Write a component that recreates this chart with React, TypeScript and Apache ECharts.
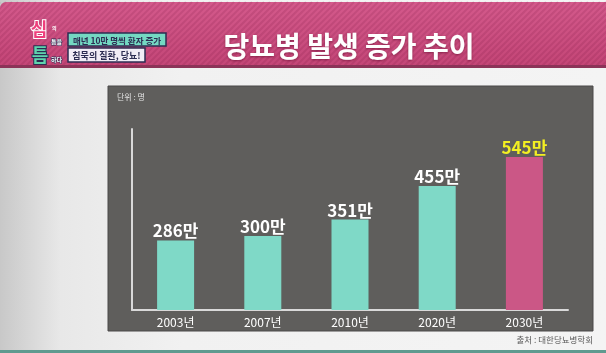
import React, { useEffect, useRef } from "react";
import * as echarts from "echarts";

const categories = ["2003년", "2007년", "2010년", "2020년", "2030년"];
const values = [286, 300, 351, 455, 545];
const highlightCategory = "2030년";
const unitSuffix = "만";
const titleText = "당뇨병 발생 증가 추이";
const unitText = "단위 : 명";
const sourceText = "출처 : 대한당뇨병학회";
const tagLine1 = "매년 10만 명씩 환자 증가";
const tagLine2 = "침묵의 질환, 당뇨!";

const FONT = "'Noto Sans CJK KR', 'Noto Sans', sans-serif";

export default function App() {
  const ref = useRef<HTMLDivElement>(null);
  useEffect(() => {
    if (!ref.current) return;
    const chart = echarts.init(ref.current, undefined, { renderer: "svg" });

    const stripes: any[] = [];
    for (let x = -70; x < 620; x += 6) {
      stripes.push({
        type: "line",
        silent: true,
        shape: { x1: x, y1: 66, x2: x + 64, y2: 2 },
        style: { stroke: "rgba(120,20,60,0.16)", lineWidth: 2 },
        z: -9,
      });
    }

    const graphics: any[] = [
      {
        type: "rect",
        shape: { x: 0, y: 0, width: 606, height: 353 },
        style: {
          fill: new echarts.graphic.LinearGradient(0, 0, 1, 0, [
            { offset: 0, color: "#c8c8c8" },
            { offset: 0.1, color: "#e8e8e8" },
            { offset: 0.3, color: "#f1f1f1" },
            { offset: 1, color: "#f4f4f4" },
          ]),
        },
        z: -10,
      },
      {
        type: "rect",
        shape: { x: 0, y: 2, width: 606, height: 64, r: [6, 0, 0, 0] },
        style: {
          fill: new echarts.graphic.LinearGradient(0, 0, 0, 1, [
            { offset: 0, color: "#d45a8c" },
            { offset: 1, color: "#c44677" },
          ]),
        },
        z: -10,
      },
      ...stripes,
      {
        type: "rect",
        shape: { x: 0, y: 65, width: 606, height: 3 },
        style: { fill: "#8c3358" },
        z: -8,
      },
      {
        type: "rect",
        shape: { x: 0, y: 350, width: 606, height: 3 },
        style: { fill: "#5f9a8f" },
        z: -8,
      },
      {
        type: "rect",
        shape: { x: 108, y: 86, width: 485, height: 245 },
        style: { fill: "#5f5e5c", stroke: "#4a4948", lineWidth: 1 },
        z: -7,
      },
      {
        type: "text",
        x: 349,
        y: 45,
        style: {
          text: titleText,
          fill: "#ffffff",
          font: `bold 28px ${FONT}`,
          align: "center",
          verticalAlign: "middle",
          textShadowColor: "rgba(80,0,30,0.5)",
          textShadowBlur: 2,
          textShadowOffsetY: 1,
        },
        z: 5,
      },
      {
        type: "text",
        x: 39,
        y: 28,
        style: {
          text: "심",
          fill: "#ee3f7c",
          font: `bold 18px ${FONT}`,
          lineHeight: 16,
          align: "center",
          verticalAlign: "middle",
          stroke: "#ffffff",
          lineWidth: 2,
        },
        z: 6,
      },
      {
        type: "text",
        x: 40,
        y: 54,
        style: {
          text: "틈",
          fill: "#5fd3ad",
          font: `bold 18px ${FONT}`,
          lineHeight: 16,
          align: "center",
          verticalAlign: "middle",
          stroke: "#2c2c52",
          lineWidth: 2,
        },
        z: 6,
      },
      {
        type: "text",
        x: 52,
        y: 27,
        style: { text: "의", fill: "#ffffff", font: `bold 5px ${FONT}`, lineHeight: 5, verticalAlign: "middle" },
        z: 6,
      },
      {
        type: "text",
        x: 51,
        y: 41,
        style: { text: "틈을", fill: "#ffffff", font: `bold 6px ${FONT}`, lineHeight: 6, verticalAlign: "middle", stroke: "#2c2c52", lineWidth: 1 },
        z: 6,
      },
      {
        type: "text",
        x: 51,
        y: 59,
        style: { text: "하다", fill: "#ffffff", font: `bold 6px ${FONT}`, lineHeight: 6, verticalAlign: "middle", stroke: "#2c2c52", lineWidth: 1 },
        z: 6,
      },
      {
        type: "rect",
        shape: { x: 68, y: 33, width: 98, height: 13 },
        style: { fill: "#74d8c2", stroke: "#2c2c52", lineWidth: 1.5 },
        z: 6,
      },
      {
        type: "text",
        x: 117,
        y: 39.5,
        style: {
          text: tagLine1,
          fill: "#2c2c52",
          font: `bold 8.5px ${FONT}`,
          align: "center",
          verticalAlign: "middle",
        },
        z: 7,
      },
      {
        type: "rect",
        shape: { x: 68, y: 48, width: 77, height: 14 },
        style: { fill: "#f1ecf6", stroke: "#2c2c52", lineWidth: 1.5 },
        z: 6,
      },
      {
        type: "text",
        x: 106.5,
        y: 55,
        style: {
          text: tagLine2,
          fill: "#2c2c52",
          font: `bold 9px ${FONT}`,
          align: "center",
          verticalAlign: "middle",
        },
        z: 7,
      },
      {
        type: "text",
        x: 117,
        y: 96,
        style: {
          text: unitText,
          fill: "#e2e2e2",
          font: `8px ${FONT}`,
          verticalAlign: "middle",
        },
        z: 5,
      },
      {
        type: "text",
        x: 593,
        y: 339,
        style: {
          text: sourceText,
          fill: "#5a5a5a",
          font: `8.5px ${FONT}`,
          align: "right",
          verticalAlign: "middle",
        },
        z: 5,
      },
    ];

    chart.setOption({
      animation: false,
      graphic: graphics,
      grid: { left: 132, right: 38, top: 129, bottom: 43 },
      xAxis: {
        type: "category",
        data: categories,
        axisLine: { show: true, lineStyle: { color: "#d9d9d9", width: 2 } },
        axisTick: { show: false },
        axisLabel: {
          color: "#ffffff",
          fontSize: 12,
          fontFamily: FONT,
          margin: 5,
        },
      },
      yAxis: {
        type: "value",
        min: 70,
        max: 632,
        axisLine: { show: true, lineStyle: { color: "#d9d9d9", width: 2 } },
        axisTick: { show: false },
        axisLabel: { show: false },
        splitLine: { show: false },
      },
      series: [
        {
          type: "bar",
          barWidth: 37,
          z: 3,
          data: values.map((v, i) => {
            const hi = categories[i] === highlightCategory;
            return {
              value: v,
              itemStyle: { color: hi ? "#cb5786" : "#7fd9c7" },
              label: { color: hi ? "#f3ef22" : "#ffffff" },
            };
          }),
          label: {
            show: true,
            position: "top",
            distance: 2,
            fontSize: 17,
            fontWeight: "bold",
            fontFamily: FONT,
            formatter: (p: any) => `${p.value}${unitSuffix}`,
          },
        },
      ],
    });

    return () => chart.dispose();
  }, []);

  return (
    <div
      ref={ref}
      style={{ position: "fixed", left: 0, top: 0, width: 606, height: 353 }}
    />
  );
}
